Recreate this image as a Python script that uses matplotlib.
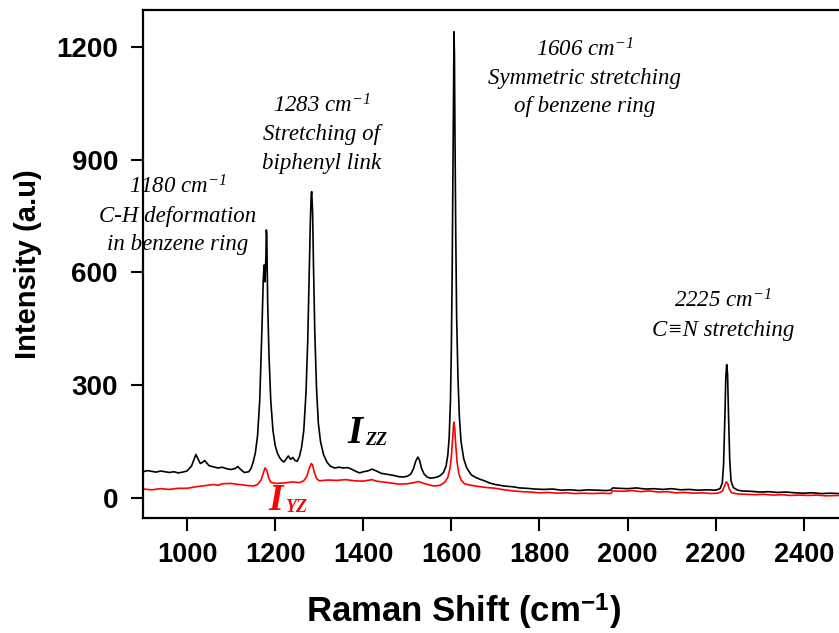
import matplotlib
matplotlib.use("Agg")
import matplotlib.pyplot as plt

plt.rcParams['mathtext.fontset'] = 'custom'
plt.rcParams['mathtext.rm'] = 'Liberation Serif:italic'
plt.rcParams['mathtext.it'] = 'Liberation Serif:italic'
plt.rcParams['mathtext.sf'] = 'Liberation Sans:bold'

# Izz spectrum (black)
zz_shift = [900, 910, 920, 930, 940, 950, 960, 970, 980, 990, 1000, 1010, 1015, 1020, 1025,
            1030, 1035, 1040, 1045, 1050, 1060, 1070, 1080, 1090, 1100, 1110, 1115, 1120, 1130,
            1140, 1145, 1150, 1155, 1160, 1165, 1170, 1173, 1175, 1177, 1179, 1180, 1181, 1183,
            1186, 1190, 1195, 1200, 1205, 1210, 1215, 1220, 1225, 1230, 1235, 1240, 1245, 1250,
            1255, 1260, 1265, 1270, 1274, 1277, 1280, 1282, 1283, 1285, 1287, 1290, 1294, 1298,
            1303, 1310, 1318, 1325, 1335, 1345, 1355, 1365, 1375, 1385, 1392, 1400, 1410, 1420,
            1430, 1440, 1450, 1460, 1470, 1480, 1490, 1500, 1508, 1514, 1519, 1524, 1528, 1532,
            1538, 1545, 1552, 1560, 1568, 1575, 1582, 1588, 1592, 1595, 1598, 1600, 1602, 1604,
            1605, 1606, 1607, 1608, 1610, 1612, 1615, 1618, 1622, 1628, 1635, 1645, 1655, 1665,
            1675, 1687, 1700, 1720, 1740, 1755, 1770, 1790, 1810, 1830, 1850, 1870, 1890, 1910,
            1930, 1950, 1962, 1966, 1980, 2000, 2020, 2040, 2060, 2080, 2100, 2120, 2140, 2160,
            2180, 2200, 2210, 2215, 2218, 2221, 2223, 2225, 2227, 2229, 2232, 2235, 2240, 2250,
            2260, 2280, 2300, 2320, 2340, 2360, 2380, 2400, 2420, 2440, 2460, 2480]
zz_int = [70, 73, 71, 69, 72, 70, 68, 70, 67, 69, 72, 85, 100, 116, 104,
          92, 95, 100, 93, 86, 83, 80, 82, 78, 76, 79, 84, 78, 68,
          70, 78, 95, 120, 165, 260, 450, 580, 620, 575, 640, 713, 700, 520,
          380, 260, 180, 140, 120, 108, 100, 96, 104, 112, 103, 108, 100, 98,
          110, 135, 180, 280, 420, 580, 740, 810, 815, 760, 620, 440, 290, 200,
          150, 115, 95, 85, 80, 82, 80, 81, 76, 70, 67, 70, 72, 77,
          72, 66, 64, 62, 60, 57, 56, 58, 64, 78, 98, 109, 100, 80,
          64, 56, 53, 54, 56, 60, 68, 85, 115, 160, 260, 400, 620, 950,
          1150, 1240, 1180, 1000, 700, 480, 320, 220, 150, 105, 80, 62, 55, 50,
          46, 40, 36, 32, 30, 27, 26, 24, 23, 24, 21, 22, 20, 22,
          21, 20, 21, 27, 26, 25, 27, 24, 25, 23, 25, 22, 23, 21,
          22, 21, 25, 40, 90, 220, 320, 355, 330, 230, 100, 45, 28, 21,
          19, 18, 16, 17, 15, 16, 14, 13, 14, 12, 13, 12]

# Iyz spectrum (red)
yz_shift = [900, 920, 940, 960, 980, 1000, 1020, 1040, 1060, 1070, 1080, 1100, 1110, 1120, 1140,
            1150, 1160, 1168, 1173, 1177, 1181, 1185, 1190, 1200, 1220, 1240, 1255, 1265, 1272,
            1277, 1282, 1285, 1289, 1294, 1300, 1320, 1340, 1360, 1380, 1400, 1420, 1430, 1450,
            1470, 1480, 1500, 1515, 1525, 1535, 1550, 1560, 1575, 1585, 1592, 1597, 1600, 1603,
            1605, 1606, 1608, 1610, 1613, 1617, 1622, 1630, 1640, 1660, 1680, 1700, 1720, 1740,
            1760, 1780, 1800, 1820, 1840, 1860, 1880, 1900, 1920, 1940, 1962, 1966, 1990, 2010,
            2030, 2050, 2070, 2090, 2110, 2130, 2150, 2170, 2190, 2205, 2215, 2220, 2224, 2227,
            2231, 2236, 2250, 2270, 2290, 2310, 2330, 2350, 2370, 2390, 2410, 2430, 2450, 2480]
yz_int = [24, 22, 25, 23, 26, 26, 30, 33, 36, 34, 38, 39, 37, 36, 33,
          32, 36, 48, 66, 80, 74, 55, 42, 39, 40, 43, 41, 46, 58,
          78, 92, 88, 68, 52, 46, 48, 47, 49, 46, 45, 49, 45, 42,
          39, 37, 38, 41, 44, 40, 35, 32, 34, 42, 55, 80, 110, 160,
          195, 202, 180, 140, 95, 65, 48, 38, 35, 31, 28, 26, 22, 19,
          17, 16, 14, 15, 13, 14, 12, 13, 12, 13, 12, 19, 18, 20,
          17, 19, 16, 17, 14, 15, 13, 14, 12, 13, 18, 32, 43, 40,
          24, 14, 11, 10, 9, 10, 8, 9, 7, 8, 7, 8, 6, 7]

x_ticks = [1000, 1200, 1400, 1600, 1800, 2000, 2200, 2400]
y_ticks = [0, 300, 600, 900, 1200]

# peak labels: (x, y, text)
peak_notes = [
    (979, 753, "1180 cm$^{-1}$\nC-H deformation\nin benzene ring"),
    (1306, 969, "1283 cm$^{-1}$\nStretching of\nbiphenyl link"),
    (1903, 1118, "1606 cm$^{-1}$\nSymmetric stretching\nof benzene ring"),
    (2216, 487, "2225 cm$^{-1}$\nC\u2261N stretching"),
]

fig = plt.figure(figsize=(8.39, 6.33), dpi=100)
ax = fig.add_axes([143 / 839, 115 / 633, 696 / 839, 508 / 633])

ax.plot(zz_shift, zz_int, color='black', lw=1.2)
ax.plot(yz_shift, yz_int, color='red', lw=1.2)

ax.set_xlim(900, 2480)
ax.set_ylim(-53, 1298)
ax.set_xticks(x_ticks)
ax.set_yticks(y_ticks)

for side in ['left', 'bottom', 'top']:
    ax.spines[side].set_linewidth(1.6)
ax.spines['right'].set_visible(False)

ax.tick_params(axis='both', direction='out', length=9, width=1.5)
ax.tick_params(axis='x', pad=8)
ax.tick_params(axis='y', pad=9)

sans = ['Liberation Sans', 'DejaVu Sans']
for lab in ax.get_xticklabels():
    lab.set_fontfamily(sans)
    lab.set_fontweight('bold')
    lab.set_fontsize(19.5)
for lab in ax.get_yticklabels():
    lab.set_fontfamily(sans)
    lab.set_fontweight('bold')
    lab.set_fontsize(20)

ax.set_xlabel("Raman Shift (cm$^{\\mathsf{-1}}$)", fontfamily=sans, fontweight='bold',
              fontsize=25)
ax.xaxis.set_label_coords(0.46, -0.146)
ax.set_ylabel("Intensity (a.u)", fontfamily=sans, fontweight='bold', fontsize=21,
              labelpad=10)

serif = ['Liberation Serif', 'DejaVu Serif']
for x, y, txt in peak_notes:
    ax.text(x, y, txt, ha='center', va='center', fontfamily=serif, style='italic',
            fontsize=16.5, linespacing=1.45, clip_on=False)

ax.text(1365, 146, "I", fontfamily=serif, style='italic', fontweight='bold', fontsize=28)
ax.text(1405, 141, "ZZ", fontfamily=serif, style='italic', fontweight='bold', fontsize=13)
ax.text(1184, -33, "I", fontfamily=serif, style='italic', fontweight='bold', fontsize=27,
        color='red')
ax.text(1222, -36, "YZ", fontfamily=serif, style='italic', fontweight='bold', fontsize=13,
        color='red')

fig.savefig('out.png', dpi=100)
